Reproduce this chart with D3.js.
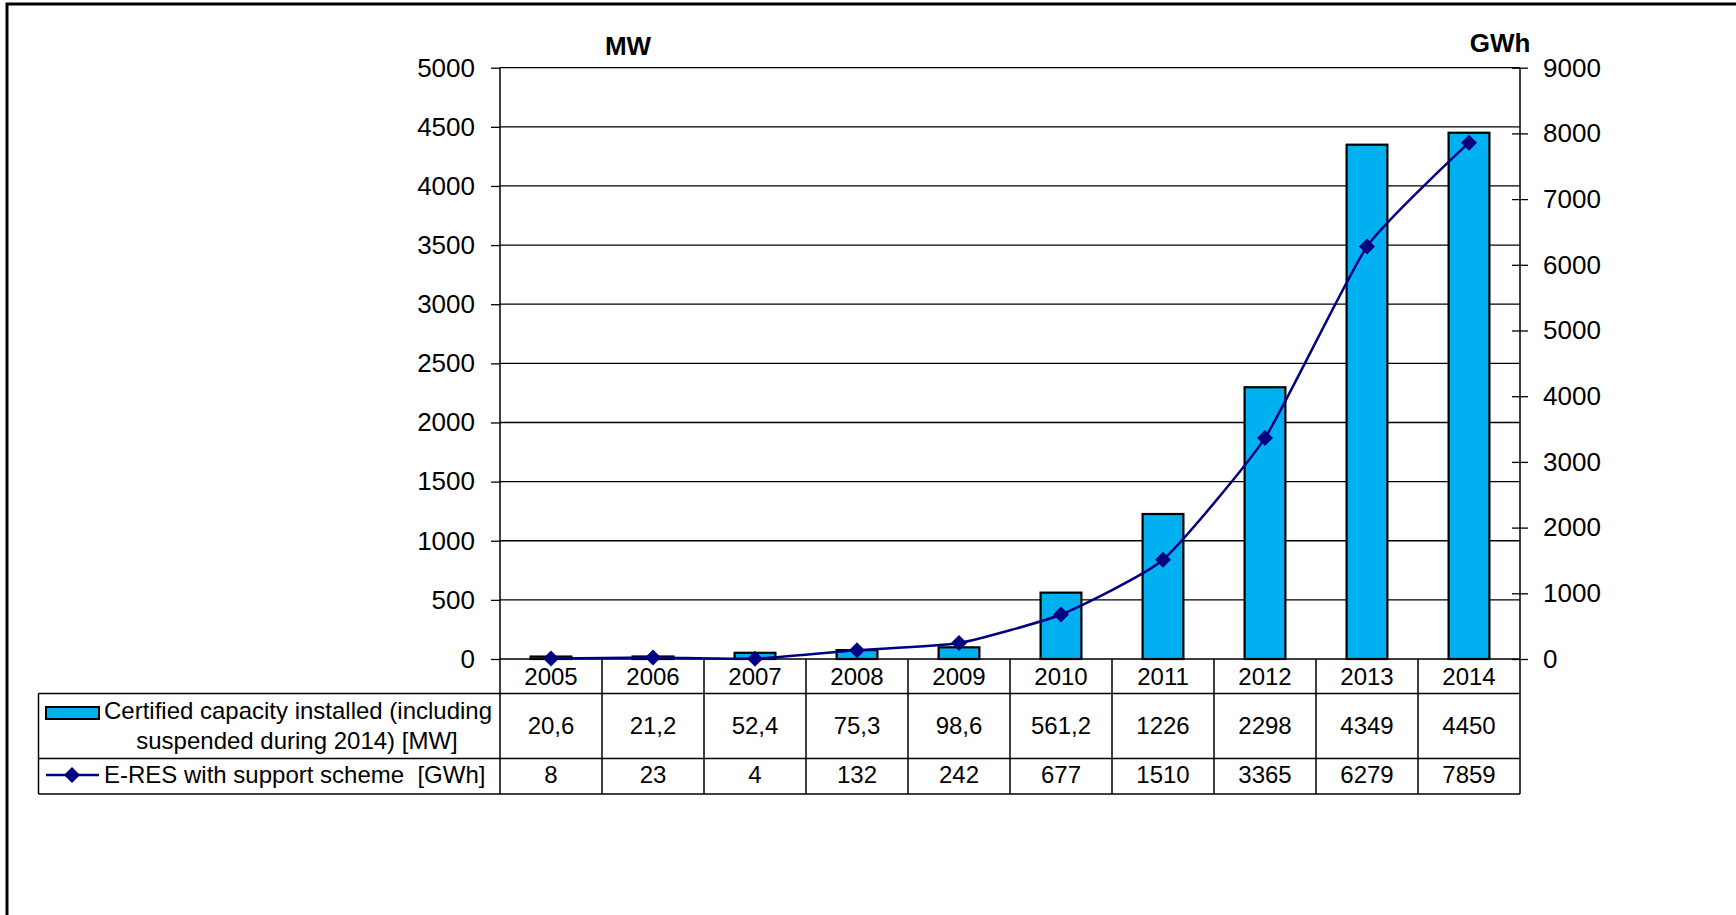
<!DOCTYPE html>
<html>
<head>
<meta charset="utf-8">
<script src="https://cdn.jsdelivr.net/npm/d3@7/dist/d3.min.js"></script>
<style>
  html, body { margin: 0; padding: 0; background: #fff; }
  svg { display: block; }
  text { font-family: "Liberation Sans", Arial, sans-serif; fill: #000; }
</style>
</head>
<body>
<svg id="chart" width="1736" height="915"></svg>
<script>
const years = ["2005","2006","2007","2008","2009","2010","2011","2012","2013","2014"];
const capacity = [20.6, 21.2, 52.4, 75.3, 98.6, 561.2, 1226, 2298, 4349, 4450];
const capacityLabels = ["20,6","21,2","52,4","75,3","98,6","561,2","1226","2298","4349","4450"];
const energy = [8, 23, 4, 132, 242, 677, 1510, 3365, 6279, 7859];
const leftTicks = [0,500,1000,1500,2000,2500,3000,3500,4000,4500,5000];
const rightTicks = [0,1000,2000,3000,4000,5000,6000,7000,8000,9000];
const leftTitle = "MW";
const rightTitle = "GWh";
const legendBar = ["Certified capacity installed (including", "suspended during 2014) [MW]"];
const legendLine = "E-RES with support scheme  [GWh]";

const svg = d3.select("#chart");
const plotL = 500, plotR = 1520, plotT = 67.7, plotB = 659;
const rowYear = 693.5, rowMid = 758.5, rowBot = 794, tableL = 38.5;
const barColor = "#00B0F0", lineColor = "#000080";

// outer frame
svg.append("rect").attr("x", 7).attr("y", 4).attr("width", 1760).attr("height", 940)
  .attr("fill", "none").attr("stroke", "#000").attr("stroke-width", 3);

const x = d3.scaleBand().domain(years).range([plotL, plotR]).paddingInner(0).paddingOuter(0);
const yL = d3.scaleLinear().domain([0, 5000]).range([plotB, plotT]);
const yR = d3.scaleLinear().domain([0, 9000]).range([plotB, plotT]);

// gridlines
svg.append("g").selectAll("line").data(leftTicks).join("line")
  .attr("x1", plotL).attr("x2", plotR)
  .attr("y1", d => yL(d)).attr("y2", d => yL(d))
  .attr("stroke", "#000").attr("stroke-width", 1.3);

// left axis
const gL = svg.append("g").attr("transform", `translate(${plotL},0)`)
  .call(d3.axisLeft(yL).tickValues(leftTicks).tickSize(9).tickPadding(16).tickFormat(d3.format("d")));
gL.select(".domain").remove();
gL.selectAll("line").attr("stroke", "#000").attr("stroke-width", 1.3);
gL.selectAll("text").attr("font-size", 26).attr("font-family", "Liberation Sans, Arial, sans-serif").attr("fill", "#000");

// right axis
const gR = svg.append("g").attr("transform", `translate(${plotR},0)`)
  .call(d3.axisRight(yR).tickValues(rightTicks).tickSize(8).tickPadding(15).tickFormat(d3.format("d")));
gR.select(".domain").remove();
gR.selectAll(".tick line").attr("x1", -8).attr("x2", 8).attr("stroke", "#000").attr("stroke-width", 1.3);
gR.selectAll("text").attr("font-size", 26).attr("font-family", "Liberation Sans, Arial, sans-serif").attr("fill", "#000");

// axis lines (continue down through table)
svg.append("line").attr("x1", plotL).attr("x2", plotL).attr("y1", plotT).attr("y2", rowBot)
  .attr("stroke", "#000").attr("stroke-width", 1.5);
svg.append("line").attr("x1", plotR).attr("x2", plotR).attr("y1", plotT).attr("y2", rowBot)
  .attr("stroke", "#000").attr("stroke-width", 1.5);

// bars
const bw = x.bandwidth() * 0.4;
svg.append("g").selectAll("rect").data(capacity).join("rect")
  .attr("x", (d, i) => x(years[i]) + x.bandwidth() / 2 - bw / 2)
  .attr("width", bw)
  .attr("y", d => yL(d))
  .attr("height", d => yL(0) - yL(d))
  .attr("fill", barColor).attr("stroke", "#000").attr("stroke-width", 2.2);

// line
const line = d3.line()
  .x((d, i) => x(years[i]) + x.bandwidth() / 2)
  .y(d => yR(d))
  .curve(d3.curveCardinal.tension(0.5));
svg.append("path").datum(energy).attr("d", line)
  .attr("fill", "none").attr("stroke", lineColor).attr("stroke-width", 2.5);

const diamond = "M0,-8L8,0L0,8L-8,0Z";
svg.append("g").selectAll("path").data(energy).join("path")
  .attr("d", diamond)
  .attr("transform", (d, i) => `translate(${x(years[i]) + x.bandwidth() / 2},${yR(d)})`)
  .attr("fill", lineColor);

// table grid
const tg = svg.append("g").attr("stroke", "#000").attr("stroke-width", 1.5);
[rowYear, rowMid, rowBot].forEach(yy => {
  tg.append("line").attr("x1", tableL).attr("x2", plotR).attr("y1", yy).attr("y2", yy);
});
tg.append("line").attr("x1", tableL).attr("x2", tableL).attr("y1", rowYear).attr("y2", rowBot);
years.forEach((yr, i) => {
  if (i > 0) tg.append("line").attr("x1", x(yr)).attr("x2", x(yr)).attr("y1", plotB).attr("y2", rowBot);
});

// table texts
const cx = (i) => x(years[i]) + x.bandwidth() / 2;
svg.append("g").selectAll("text").data(years).join("text")
  .attr("x", (d, i) => cx(i)).attr("y", 685).attr("text-anchor", "middle")
  .attr("font-size", 24).text(d => d);
svg.append("g").selectAll("text").data(capacityLabels).join("text")
  .attr("x", (d, i) => cx(i)).attr("y", 734).attr("text-anchor", "middle")
  .attr("font-size", 24).text(d => d);
svg.append("g").selectAll("text").data(energy).join("text")
  .attr("x", (d, i) => cx(i)).attr("y", 783).attr("text-anchor", "middle")
  .attr("font-size", 24).text(d => d);

// legend cells
svg.append("rect").attr("x", 46).attr("y", 707).attr("width", 53).attr("height", 12)
  .attr("fill", barColor).attr("stroke", "#000").attr("stroke-width", 2);
svg.append("text").attr("x", 104).attr("y", 719).attr("font-size", 24)
  .attr("textLength", 388).attr("lengthAdjust", "spacingAndGlyphs").text(legendBar[0]);
svg.append("text").attr("x", 297).attr("y", 749).attr("text-anchor", "middle").attr("font-size", 24).text(legendBar[1]);

svg.append("line").attr("x1", 46).attr("x2", 99).attr("y1", 775).attr("y2", 775)
  .attr("stroke", lineColor).attr("stroke-width", 2.5);
svg.append("path").attr("d", diamond).attr("transform", "translate(72,775)").attr("fill", lineColor);
svg.append("text").attr("x", 104).attr("y", 783).attr("font-size", 24)
  .attr("xml:space", "preserve").style("white-space", "pre").text(legendLine);

// axis titles
svg.append("text").attr("x", 628).attr("y", 55).attr("text-anchor", "middle")
  .attr("font-size", 26).attr("font-weight", "bold").text(leftTitle);
svg.append("text").attr("x", 1500).attr("y", 52).attr("text-anchor", "middle")
  .attr("font-size", 26).attr("font-weight", "bold").text(rightTitle);
</script>
</body>
</html>
